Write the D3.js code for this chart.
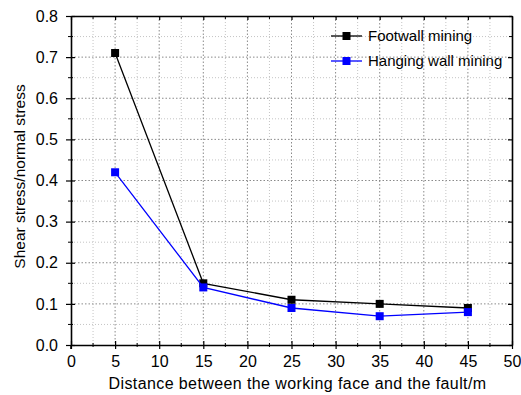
<!DOCTYPE html>
<html>
<head>
<meta charset="utf-8">
<script src="https://cdn.jsdelivr.net/npm/d3@7"></script>
<style>
  body { margin: 0; background: #fff; }
  svg text { font-family: "Liberation Sans", Arial, sans-serif; fill: #000; }
</style>
</head>
<body>
<div id="chart"></div>
<script>
  'use strict';

  // distance between working face and fault (m)
  const distances = [5, 15, 25, 35, 45];
  const footwall = [0.71, 0.15, 0.11, 0.10, 0.09];
  const hanging = [0.42, 0.14, 0.09, 0.07, 0.08];

  const xTicks = [0, 5, 10, 15, 20, 25, 30, 35, 40, 45, 50];
  const yTicks = [0.0, 0.1, 0.2, 0.3, 0.4, 0.5, 0.6, 0.7, 0.8];

  const seriesList = [
    { name: "Footwall mining", values: footwall, color: "#000000" },
    { name: "Hanging wall mining", values: hanging, color: "#0000ff" }
  ];

  const size = { width: 521, height: 395 };
  const margin = { top: 16, right: 9, bottom: 50, left: 71 };
  const width = size.width - margin.left - margin.right;
  const height = size.height - margin.top - margin.bottom;

  const xScale = d3.scaleLinear().domain([0, 50]).range([0, width]);
  const yScale = d3.scaleLinear().domain([0, 0.8]).range([height, 0]);

  const svg = d3.select("#chart").append("svg")
      .attr("width", size.width)
      .attr("height", size.height);

  const graph = svg.append("g")
      .attr("transform", "translate(" + margin.left + "," + margin.top + ")");

  // minor positions halfway between major ticks
  const xMinor = d3.range(2.5, 50, 5);
  const yMinor = d3.range(0.05, 0.8, 0.1);

  // grid: minor lighter, major darker, both dotted
  const grid = graph.append("g").attr("class", "grid");
  grid.selectAll("line.vmin").data(xMinor).enter().append("line")
      .attr("x1", d => xScale(d)).attr("x2", d => xScale(d))
      .attr("y1", 0).attr("y2", height)
      .attr("stroke", "#c4c4c4").attr("stroke-dasharray", "1,2");
  grid.selectAll("line.hmin").data(yMinor).enter().append("line")
      .attr("y1", d => yScale(d)).attr("y2", d => yScale(d))
      .attr("x1", 0).attr("x2", width)
      .attr("stroke", "#c4c4c4").attr("stroke-dasharray", "1,2");
  grid.selectAll("line.vmaj").data(xTicks.slice(1, -1)).enter().append("line")
      .attr("x1", d => xScale(d)).attr("x2", d => xScale(d))
      .attr("y1", 0).attr("y2", height)
      .attr("stroke", "#8a8a8a").attr("stroke-dasharray", "1.5,2");
  grid.selectAll("line.hmaj").data(yTicks.slice(1, -1)).enter().append("line")
      .attr("y1", d => yScale(d)).attr("y2", d => yScale(d))
      .attr("x1", 0).attr("x2", width)
      .attr("stroke", "#8a8a8a").attr("stroke-dasharray", "1.5,2");

  // axes
  const fmtY = d3.format(".1f");
  const xAxis = graph.append("g")
      .attr("transform", "translate(0," + height + ")")
      .call(d3.axisBottom(xScale).tickValues(xTicks).tickSize(4).tickSizeOuter(0).tickPadding(7));
  const yAxis = graph.append("g")
      .call(d3.axisLeft(yScale).tickValues(yTicks).tickFormat(fmtY).tickSize(5).tickSizeOuter(0).tickPadding(8));
  const topAxis = graph.append("g")
      .call(d3.axisTop(xScale).tickValues(xTicks).tickSize(-4).tickSizeOuter(0).tickFormat(""));
  const rightAxis = graph.append("g")
      .attr("transform", "translate(" + width + ",0)")
      .call(d3.axisRight(yScale).tickValues(yTicks).tickSize(-4).tickSizeOuter(0).tickFormat(""));

  [xAxis, yAxis, topAxis, rightAxis].forEach(a => {
    a.select(".domain").attr("stroke", "#000").attr("stroke-width", 1.6);
    a.selectAll(".tick line").attr("stroke", "#000").attr("stroke-width", 1.2);
    a.selectAll(".tick text")
        .style("font-size", "16px")
        .style("font-family", "Liberation Sans, Arial, sans-serif");
  });

  // left axis line runs a little past the bottom axis
  graph.append("line")
      .attr("x1", 0).attr("x2", 0).attr("y1", height).attr("y2", height + 4)
      .attr("stroke", "#000").attr("stroke-width", 1.6);

  // inward part of major ticks on the bottom and left axes
  xAxis.selectAll(".tick").append("line")
      .attr("y2", -4).attr("stroke", "#000").attr("stroke-width", 1.2);
  yAxis.selectAll(".tick").append("line")
      .attr("x2", 4).attr("stroke", "#000").attr("stroke-width", 1.2);

  // minor ticks
  const minor = graph.append("g").attr("stroke", "#000").attr("stroke-width", 1);
  minor.selectAll("line.xb").data(xMinor).enter().append("line")
      .attr("x1", d => xScale(d)).attr("x2", d => xScale(d))
      .attr("y1", height - 2).attr("y2", height + 2);
  minor.selectAll("line.xt").data(xMinor).enter().append("line")
      .attr("x1", d => xScale(d)).attr("x2", d => xScale(d))
      .attr("y1", 0).attr("y2", 3);
  minor.selectAll("line.yl").data(yMinor).enter().append("line")
      .attr("y1", d => yScale(d)).attr("y2", d => yScale(d))
      .attr("x1", -3).attr("x2", 2);
  minor.selectAll("line.yr").data(yMinor).enter().append("line")
      .attr("y1", d => yScale(d)).attr("y2", d => yScale(d))
      .attr("x1", width - 3).attr("x2", width);

  // axis titles
  graph.append("text")
      .attr("text-anchor", "middle")
      .attr("x", width / 2 + 6)
      .attr("y", height + 44)
      .style("font-size", "16px")
      .style("letter-spacing", "0.4px")
      .text("Distance between the working face and the fault/m");

  graph.append("text")
      .attr("text-anchor", "middle")
      .attr("transform", "rotate(-90)")
      .attr("x", -height / 2 + 4)
      .attr("y", -46)
      .style("font-size", "15.5px")
      .text("Shear stress/normal stress");

  // series
  const line = d3.line()
      .x(d => xScale(d.x))
      .y(d => yScale(d.y));

  seriesList.forEach(s => {
    const pts = distances.map((x, i) => ({ x: x, y: s.values[i] }));
    graph.append("path")
        .datum(pts)
        .attr("fill", "none")
        .attr("stroke", s.color)
        .attr("stroke-width", 1.3)
        .attr("d", line);
    graph.selectAll(null).data(pts).enter().append("rect")
        .attr("x", d => xScale(d.x) - 4)
        .attr("y", d => yScale(d.y) - 4)
        .attr("width", 8).attr("height", 8)
        .attr("fill", s.color);
  });

  // legend
  const legend = graph.append("g").attr("transform", "translate(260,20)");
  seriesList.forEach((s, i) => {
    const row = legend.append("g").attr("transform", "translate(0," + (i * 25) + ")");
    row.append("line")
        .attr("x1", 0).attr("x2", 31).attr("y1", 0).attr("y2", 0)
        .attr("stroke", s.color).attr("stroke-width", 1.3);
    row.append("rect")
        .attr("x", 11.5).attr("y", -4).attr("width", 8).attr("height", 8)
        .attr("fill", s.color);
    row.append("text")
        .attr("x", 37).attr("y", 5)
        .style("font-size", "15px")
        .text(s.name);
  });
</script>
</body>
</html>
